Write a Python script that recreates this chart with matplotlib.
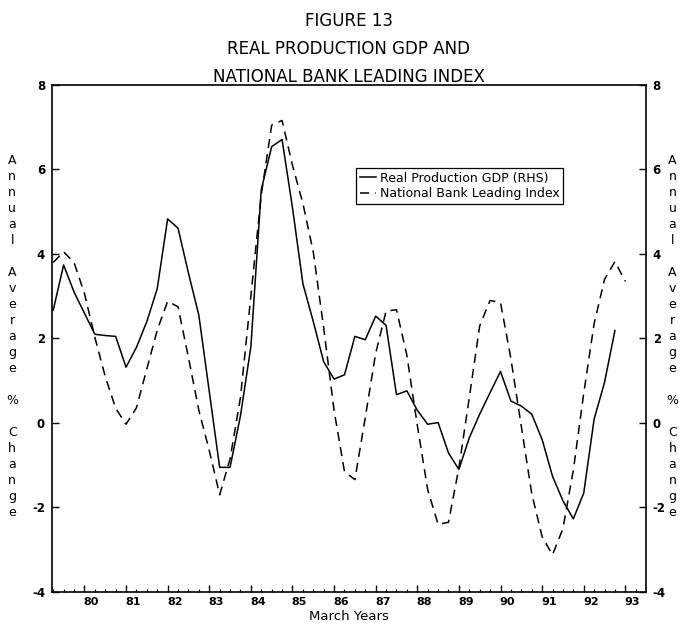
import numpy as np
import matplotlib
matplotlib.use("Agg")
import matplotlib.pyplot as plt
from matplotlib.ticker import MultipleLocator
from matplotlib.transforms import ScaledTranslation

# quarterly observations, March years (first point 1979 Q2)
start_year = 79.25
gdp = [2.67, 3.74, 3.10, 2.60, 2.10, 2.07, 2.05, 1.32, 1.79, 2.40,
       3.18, 4.83, 4.61, 3.55, 2.55, 0.75, -1.05, -1.05, 0.17, 1.80,
       5.52, 6.54, 6.71, 5.10, 3.30, 2.40, 1.45, 1.04, 1.14, 2.05,
       1.97, 2.53, 2.31, 0.67, 0.76, 0.30, -0.03, 0.01, -0.71, -1.10,
       -0.35, 0.21, 0.72, 1.22, 0.52, 0.40, 0.21, -0.39, -1.26, -1.84,
       -2.27, -1.66, 0.09, 0.96, 2.19]
leading = [3.80, 4.05, 3.80, 3.07, 2.03, 1.10, 0.35, -0.03, 0.36, 1.28,
           2.20, 2.88, 2.75, 1.55, 0.30, -0.65, -1.70, -0.85, 0.60, 3.00,
           5.40, 7.05, 7.16, 6.10, 5.20, 4.05, 2.25, 0.30, -1.15, -1.34,
           0.13, 1.65, 2.65, 2.68, 1.60, -0.05, -1.58, -2.40, -2.35, -1.06,
           0.60, 2.30, 2.90, 2.85, 1.52, -0.08, -1.67, -2.69, -3.12, -2.50,
           -1.12, 0.70, 2.35, 3.40, 3.82, 3.35]
year_labels = [str(y) for y in range(80, 94)]
title_lines = ["FIGURE 13", "REAL PRODUCTION GDP AND",
               "NATIONAL BANK LEADING INDEX"]
side_label = "Annual Average % Change"


def main():
    plt.rcParams["axes.unicode_minus"] = False
    fig = plt.figure(figsize=(6.82, 6.24), dpi=100)
    ax = fig.add_axes([0.0762, 0.0513, 0.8706, 0.8125])

    x_gdp = start_year + 0.25 * np.arange(len(gdp))
    x_lead = start_year + 0.25 * np.arange(len(leading))

    ax.plot(x_gdp, gdp, color="black", lw=1.1,
            label="Real Production GDP (RHS)")
    ax.plot(x_lead, leading, color="black", lw=1.1, linestyle=(0, (6, 4)),
            label="National Bank Leading Index")

    ax.set_xlim(79.22, 93.49)
    ax.set_ylim(-4, 8)

    # ticks
    ax.set_xticks(np.arange(80, 94))
    ax.set_xticklabels(year_labels)
    ax.xaxis.set_minor_locator(MultipleLocator(0.25))
    ax.set_yticks(np.arange(-4, 9, 2))
    ax.tick_params(axis="x", which="major", direction="in", length=5,
                   width=1, pad=3.5, labelsize=8)
    ax.tick_params(axis="x", which="minor", direction="in", length=2.5,
                   width=0.8)
    ax.tick_params(axis="y", which="major", direction="in", length=5,
                   width=1, left=True, right=True, labelleft=True,
                   labelright=True, pad=5, labelsize=8.5)
    for lab in ax.get_xticklabels() + ax.get_yticklabels():
        lab.set_fontweight("bold")
    # year labels sit a little to the right of their ticks
    shift = ScaledTranslation(0.07, 0, fig.dpi_scale_trans)
    for lab in ax.get_xticklabels():
        lab.set_transform(lab.get_transform() + shift)

    for sp in ax.spines.values():
        sp.set_linewidth(1.2)

    leg = ax.legend(loc="upper left", bbox_to_anchor=(0.513, 0.741),
                    bbox_transform=fig.transFigure, fontsize=9,
                    handlelength=1.3, handletextpad=0.3, borderpad=0.3,
                    labelspacing=0.2, fancybox=False, framealpha=1,
                    edgecolor="black")
    leg.get_frame().set_linewidth(0.9)

    # title
    cx = 0.511
    for txt, yy in zip(title_lines, [0.966, 0.922, 0.877]):
        fig.text(cx, yy, txt, ha="center", va="center", fontsize=12)

    # stacked side labels
    stacked = "\n".join(" " if c == " " else c for c in side_label)
    for xx in (0.018, 0.986):
        fig.text(xx, 0.46, stacked, ha="center", va="center",
                 fontsize=9, linespacing=1.3)

    fig.text(cx, 0.0115, "March Years", ha="center", va="center",
             fontsize=9.5)

    fig.savefig("out.png", dpi=100)


if __name__ == "__main__":
    main()
